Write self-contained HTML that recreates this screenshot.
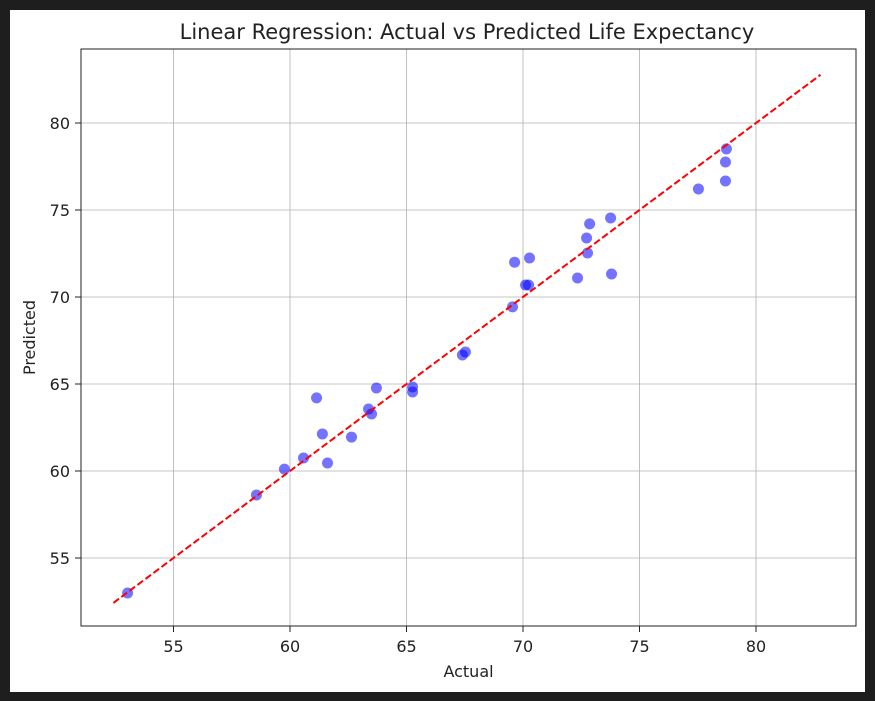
<!DOCTYPE html>
<html><head><meta charset="utf-8"><style>
body{margin:0;background:#1e1e1e;width:875px;height:701px;overflow:hidden}
svg{position:absolute;left:0;top:0}
text{font-family:"DejaVu Sans","Liberation Sans",sans-serif;fill:#222}
</style></head><body>
<svg id="c" width="875" height="701">
<rect x="10" y="10" width="855" height="682" fill="#fff"/>
</svg>
<script>
const actual=[53.03,58.56,59.76,60.58,61.14,61.39,61.61,62.64,63.37,63.5,63.71,65.26,65.26,67.4,67.53,69.55,69.64,70.11,70.24,70.28,72.34,72.73,72.77,72.86,73.76,73.8,77.53,78.69,78.69,78.73];
const predicted=[52.99,58.62,60.11,60.75,64.2,62.13,60.46,61.95,63.56,63.28,64.77,64.83,64.54,66.67,66.84,69.43,72.0,70.69,70.69,72.24,71.09,73.39,72.53,74.2,74.54,71.32,76.21,76.67,77.76,78.51];
const xTicks=[55,60,65,70,75,80];
const yTicks=[55,60,65,70,75,80];
const lineRange=[52.42,82.77];
const L=81,R=856,T=49,B=626;
const X=v=>173.5+(v-55)*(756-173.5)/25;
const Y=v=>558-(v-55)*(558-123)/25;
const s=document.getElementById('c');const ns='http://www.w3.org/2000/svg';
function mk(t,a,p){const e=document.createElementNS(ns,t);for(const k in a)e.setAttribute(k,a[k]);(p||s).appendChild(e);return e;}
xTicks.forEach(v=>{const g=mk('line',{x1:X(v),x2:X(v),y1:T,y2:B,stroke:'#b0b0b0','stroke-width':0.8});

mk('line',{x1:X(v),x2:X(v),y1:B,y2:B+6,stroke:'#222'});
const t=mk('text',{x:X(v),y:B+26,'text-anchor':'middle','font-size':16});t.textContent=v;
});
yTicks.forEach(v=>{const g=mk('line',{x1:L,x2:R,y1:Y(v),y2:Y(v),stroke:'#b0b0b0','stroke-width':0.8});

mk('line',{x1:L-6,x2:L,y1:Y(v),y2:Y(v),stroke:'#222'});
const t=mk('text',{x:L-11,y:Y(v)+6,'text-anchor':'end','font-size':16});t.textContent=v;
});
actual.forEach((a,i)=>{const c=mk('circle',{cx:X(a),cy:Y(predicted[i]),r:5.5,fill:'#0000ff','fill-opacity':0.55});
});
const ln=mk('line',{x1:X(lineRange[0]),y1:Y(lineRange[0]),x2:X(lineRange[1]),y2:Y(lineRange[1]),stroke:'#ff0000','stroke-width':2,'stroke-dasharray':'7,3'});

const fr=mk('rect',{x:L,y:T,width:R-L,height:B-T,fill:'none',stroke:'#222','stroke-width':1});

let t=mk('text',{x:467,y:39,'text-anchor':'middle','font-size':21});t.textContent='Linear Regression: Actual vs Predicted Life Expectancy';

t=mk('text',{x:(L+R)/2,y:677,'text-anchor':'middle','font-size':16});t.textContent='Actual';

t=mk('text',{x:35,y:(T+B)/2,'text-anchor':'middle','font-size':16,transform:`rotate(-90 35 ${(T+B)/2})`});t.textContent='Predicted';

</script>
</body></html>
